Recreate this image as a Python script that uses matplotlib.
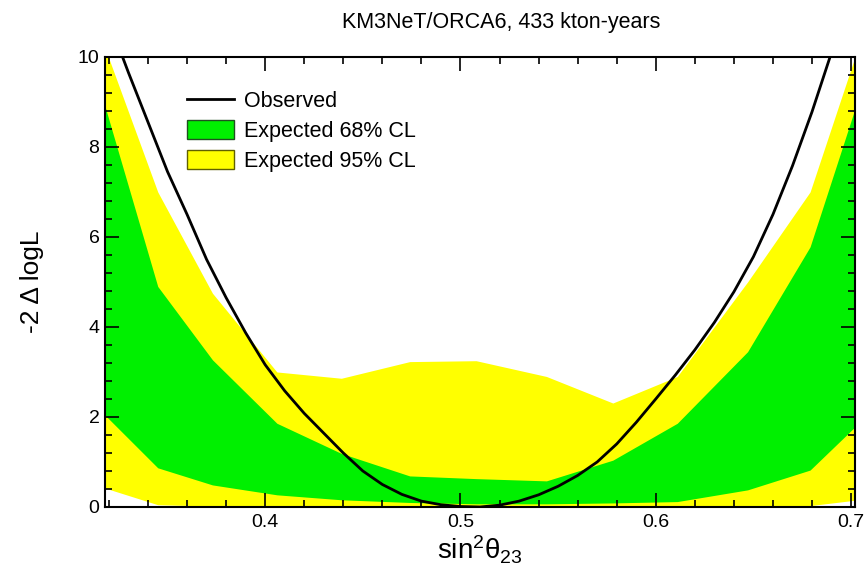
# KM3NeT/ORCA6 sin^2(theta23) profile: observed curve and expected bands

import matplotlib
matplotlib.use('Agg')
import matplotlib.pyplot as plt
from matplotlib.patches import Patch
from matplotlib.lines import Line2D
from matplotlib.ticker import MultipleLocator

plt.rcParams['font.family'] = ['Liberation Sans', 'DejaVu Sans']
plt.rcParams['mathtext.fontset'] = 'custom'
plt.rcParams['mathtext.rm'] = 'Liberation Sans'
plt.rcParams['mathtext.default'] = 'regular'

# ----------------------------
# Data
# ----------------------------

# expected bands (sampled grid)
band_x = [0.318, 0.345, 0.373, 0.406, 0.439, 0.474, 0.508, 0.544, 0.578, 0.611, 0.647, 0.679, 0.702]
cl95_hi = [10.2, 7.0, 4.75, 3.0, 2.86, 3.23, 3.25, 2.90, 2.31, 2.90, 5.0, 7.0, 10.0]
cl68_hi = [8.9, 4.9, 3.27, 1.86, 1.19, 0.69, 0.63, 0.58, 1.04, 1.86, 3.45, 5.78, 8.85]
cl68_lo = [2.04, 0.87, 0.49, 0.27, 0.16, 0.10, 0.07, 0.07, 0.09, 0.12, 0.38, 0.82, 1.78]
cl95_lo = [0.42, 0.05, 0.02, 0.01, 0.0, 0.0, 0.0, 0.0, 0.0, 0.0, 0.01, 0.03, 0.15]

# observed -2 delta logL
obs_x = [0.320, 0.330, 0.340, 0.350, 0.360, 0.370, 0.380, 0.390, 0.400, 0.410,
         0.420, 0.430, 0.440, 0.450, 0.460, 0.470, 0.480, 0.490, 0.500, 0.510,
         0.520, 0.530, 0.540, 0.550, 0.560, 0.570, 0.580, 0.590, 0.600, 0.610,
         0.620, 0.630, 0.640, 0.650, 0.660, 0.670, 0.680, 0.690, 0.695]
obs_y = [10.8, 9.65, 8.55, 7.45, 6.5, 5.5, 4.65, 3.87, 3.16, 2.58,
         2.08, 1.64, 1.2, 0.8, 0.5, 0.28, 0.13, 0.05, 0.01, 0.0,
         0.04, 0.13, 0.27, 0.46, 0.7, 1.0, 1.4, 1.88, 2.40, 2.93,
         3.49, 4.1, 4.78, 5.56, 6.5, 7.58, 8.78, 10.1, 10.8]

# ----------------------------
# Plot
# ----------------------------

fig = plt.figure(figsize=(8.68, 5.69), dpi=100)
ax = fig.add_axes([0.121, 0.109, 0.864, 0.791])

yellow = '#ffff00'
green = '#00f000'

ax.fill_between(band_x, cl95_lo, cl95_hi, color=yellow, lw=0)
ax.fill_between(band_x, cl68_lo, cl68_hi, color=green, lw=0)
ax.plot(obs_x, obs_y, color='black', lw=2)

ax.set_xlim(0.318, 0.702)
ax.set_ylim(0, 10)

ax.xaxis.set_major_locator(MultipleLocator(0.1))
ax.xaxis.set_minor_locator(MultipleLocator(0.02))
ax.yaxis.set_major_locator(MultipleLocator(2))
ax.yaxis.set_minor_locator(MultipleLocator(0.4))
ax.tick_params(which='both', direction='in', top=True, right=True, width=1.2)
ax.tick_params(which='major', length=10, labelsize=14, pad=5)
ax.tick_params(which='minor', length=5)
ax.tick_params(axis='y', labelsize=14, pad=4)

for s in ax.spines.values():
    s.set_linewidth(1.5)

ax.set_xlabel('sin$^{2}$θ$_{23}$', fontsize=20, labelpad=2)
ax.set_ylabel('-2 Δ logL', fontsize=19, labelpad=24)
fig.text(0.577, 0.961, 'KM3NeT/ORCA6, 433 kton-years', fontsize=15.5,
         ha='center', va='center')

handles = [
    Line2D([0], [0], color='black', lw=2),
    Patch(facecolor=green, edgecolor='#205020', lw=1),
    Patch(facecolor=yellow, edgecolor='#606000', lw=1),
]
labels = ['Observed', 'Expected 68% CL', 'Expected 95% CL']
ax.legend(handles, labels, loc='upper left', bbox_to_anchor=(0.098, 0.945),
          frameon=False, fontsize=15.5, handlelength=2.2, handleheight=1.0,
          labelspacing=0.36, handletextpad=0.45, borderaxespad=0)

plt.savefig('out.png', dpi=100)
plt.close()
